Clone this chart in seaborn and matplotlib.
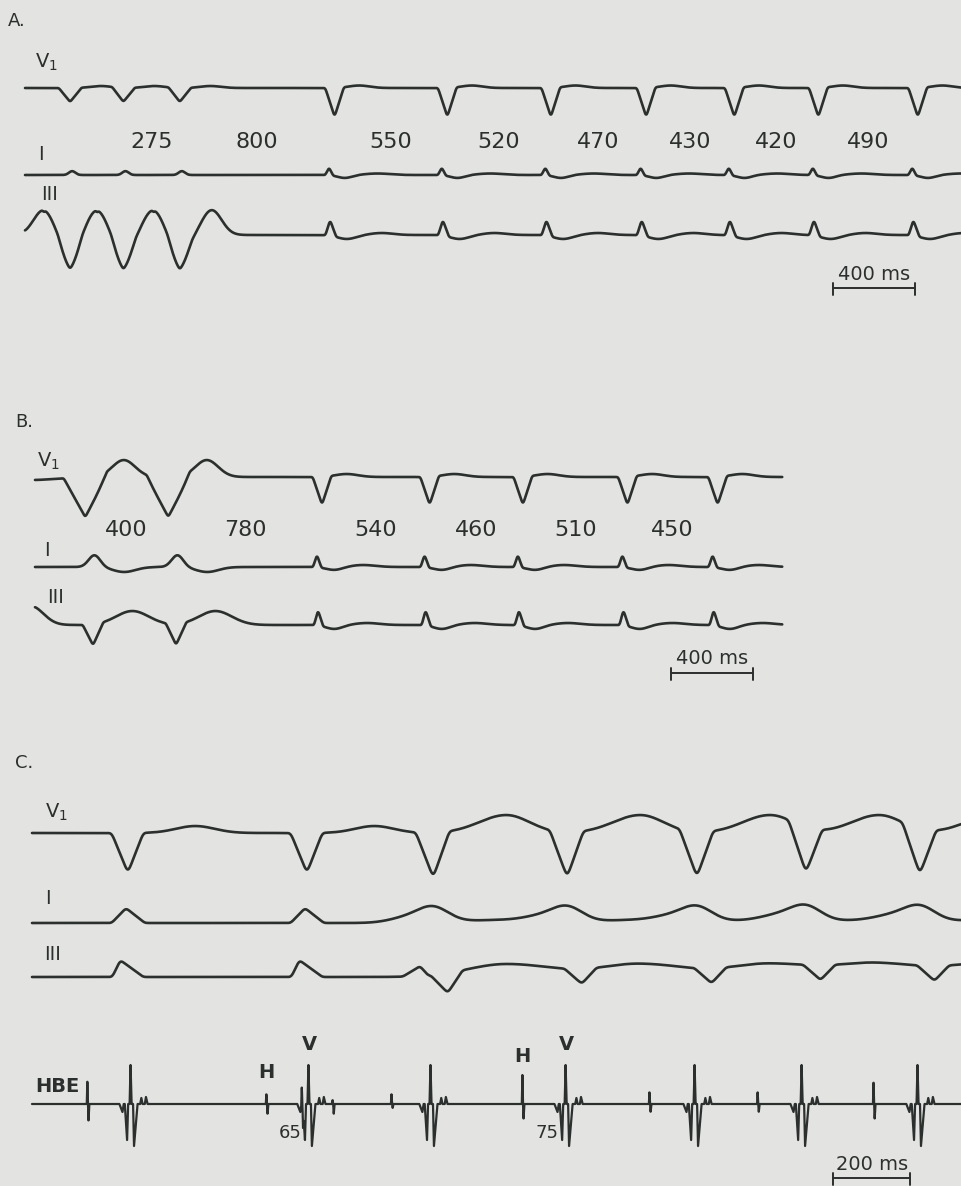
import numpy as np
import pandas as pd
import seaborn as sns
import matplotlib
matplotlib.use("Agg")
import matplotlib.pyplot as plt

W, H = 962, 1186
BG = "#e3e4e1"
INK = "#2b2f2d"
NARROW = ["Liberation Sans Narrow", "DejaVu Sans"]

# ---------------- data read off the tracings ----------------
# beat times in ms from the start of each strip (QRS nadir in V1)
A_BEATS = [220, 480, 755, 1510, 2060, 2565, 3030, 3460, 3870, 4355]
A_TYPES = ["w", "w", "wl", "n", "n", "n", "n", "n", "n", "n"]
A_LABELS = ["275", "800", "550", "520", "470", "430", "420", "490"]
A_END = 4570

B_BEATS = [-20, 245, 650, 1400, 1925, 2380, 2890, 3330]
B_TYPES = ["x", "w", "w", "n", "n", "n", "n", "n"]
B_LABELS = ["400", "780", "540", "460", "510", "450"]
B_END = 3645

C_BEATS = [249, 714, 1042, 1390, 1727, 2010, 2306]
C_TYPES = ["n", "n", "m", "w", "w", "w", "w"]
C_END = 2416

# His bundle electrogram: sharp deflections (ms, up, down) and V complexes (ms)
HBE_H = [(145, 23, -17), (610, 10, -10), (702, 17, -20), (782, 4, -10), (935, 10, -4),
         (1275, 30, -15), (1605, 12, -8), (1886, 12, -8), (2187, 22, -15)]
HBE_V = [260, 722, 1039, 1390, 1725, 2003, 2304]
HV_LABELS = [("H", 610, 1072), ("V", 722, 1044), ("H", 1275, 1057), ("V", 1390, 1044)]
HV_INTERVALS = [("65", 722), ("75", 1390)]

SCALE_AB = 400
SCALE_C = 200

# wave components per lead and beat type: (offset ms, amplitude, left width, right width, kind)
TPL_A = {
    "V1": {"w": [(0, -14, 55, 55, "t"), (150, 2, 50, 50, "g")],
           "wl": [(0, -14, 55, 55, "t"), (150, 2, 50, 50, "g")],
           "n": [(0, -29, 45, 45, "t"), (120, 2.5, 50, 50, "g")]},
    "I": {"w": [(10, 4, 15, 15, "g")],
          "wl": [(10, 4, 15, 15, "g")],
          "n": [(-27, 8, 18, 20, "t"), (50, -3, 35, 35, "g"), (210, 1.5, 60, 60, "g")]},
    "III": {"w": [(0, -20, 45, 45, "g"), (0, -15, 60, 60, "t"), (-130, 25, 48, 48, "g"), (-128, -7, 2, 2, "t")],
            "wl": [(0, -20, 45, 45, "g"), (0, -15, 60, 60, "t"), (-130, 25, 48, 48, "g"), (-128, -7, 2, 2, "t"),
                   (156, 25, 48, 48, "g")],
            "n": [(-22, 16, 22, 30, "t"), (60, -4, 45, 45, "g"), (230, 2, 55, 55, "g")]},
}
TPL_B = {
    "V1": {"x": [(0, -3, 200, 120, "g")],
           "w": [(0, -40, 105, 105, "t"), (188, 17, 55, 55, "g")],
           "n": [(0, -28, 45, 45, "t"), (120, 3, 55, 55, "g")]},
    "I": {"w": [(45, 12, 28, 28, "g"), (190, -5, 55, 55, "g")],
          "n": [(-25, 13, 18, 22, "t"), (60, -3, 40, 40, "g"), (200, 2, 60, 60, "g")]},
    "III": {"x": [(0, 19, 60, 60, "g")],
            "w": [(38, -21, 50, 50, "t"), (230, 14, 80, 80, "g")],
            "n": [(-20, 16, 18, 25, "t"), (60, -4, 40, 40, "g"), (220, 2, 60, 60, "g")]},
}
TPL_C = {
    "V1": {"n": [(0, -40, 42, 40, "t"), (175, 7, 50, 50, "g")],
           "m": [(0, -45, 45, 42, "t"), (190, 18, 70, 60, "g")],
           "w": [(0, -45, 45, 42, "t"), (190, 18, 70, 60, "g")]},
    "I": {"n": [(-5, 15, 37, 49, "t")],
          "m": [(0, 15, 40, 40, "g"), (-70, 5, 45, 45, "g"), (170, 3, 90, 90, "g")],
          "w": [(0, 15, 40, 40, "g"), (-70, 5, 45, 45, "g"), (170, 3, 90, 90, "g")]},
    "III": {"n": [(-20, 17, 20, 60, "t")],
            "m": [(-34, 10, 45, 20, "t"), (38, -20, 45, 38, "t"), (190, 13, 100, 130, "g")],
            "w": [(38, -15, 45, 38, "t"), (190, 13, 100, 130, "g")]},
}
V_COMPLEX = [(-25, -8, 8, 3, "t"), (-13, -36, 6, 2.5, "t"), (-4, 39, 2.5, 2.5, "t"),
             (5, -42, 2.5, 9, "t"), (24, 6, 3, 3, "t"), (36, 7, 3, 4, "t")]

# ---------------- layout (pixels) ----------------
PANELS = {
    "A": dict(rows=(0, 330), x0=25, s=82 / 400, base={"V1": 88, "I": 175, "III": 235},
              letter=(8, 21), label_row=142, bar_row=288, bar_start=3941),
    "B": dict(rows=(330, 690), x0=35, s=82 / 400, base={"V1": 477, "I": 567, "III": 625},
              letter=(15, 422), label_row=530, bar_row=673, bar_start=3102),
    "C": dict(rows=(690, 1186), x0=32, s=77 / 200, base={"V1": 833, "I": 923, "III": 977, "HBE": 1104},
              letter=(15, 763), bar_row=1178, bar_start=2081),
}
LEAD_LABELS = {
    "A": {"V1": (35, 68), "I": (41, 155), "III": (50, 194)},
    "B": {"V1": (37, 467), "I": (47, 551), "III": (56, 597)},
    "C": {"V1": (45, 818), "I": (48, 898), "III": (53, 955)},
}


def build_trace(t, beats, types, template):
    y = np.zeros_like(t)
    for b, k in zip(beats, types):
        for off, amp, wl, wr, kind in template.get(k, []):
            d = t - (b + off)
            w = np.where(d < 0, wl, wr)
            if kind == "g":
                y += amp * np.exp(-0.5 * (d / w) ** 2)
            else:
                y += amp * np.clip(1 - np.abs(d) / w, 0, None)
    return y


def smooth(y, dt, sigma=4.5):
    k = np.arange(-4 * sigma, 4 * sigma + dt, dt)
    k = np.exp(-0.5 * (k / sigma) ** 2)
    k /= k.sum()
    pad = len(k) // 2
    yp = np.pad(y, pad, mode="edge")
    return np.convolve(yp, k, mode="same")[pad:-pad]


def ftxt(x, y, s, **kw):
    fig.text(x / W, 1 - y / H, s, color=INK, **kw)


fig = plt.figure(figsize=(W / 100, H / 100), dpi=100, facecolor=BG)
sns.set_style("white")
plt.rcParams["font.family"] = ["DejaVu Sans"]
plt.rcParams["mathtext.default"] = "regular"

strips = {"A": (A_BEATS, A_TYPES, A_END, TPL_A),
          "B": (B_BEATS, B_TYPES, B_END, TPL_B),
          "C": (C_BEATS, C_TYPES, C_END, TPL_C)}

for name, (beats, types, t_end, tpl) in strips.items():
    p = PANELS[name]
    r0, r1 = p["rows"]
    ax = fig.add_axes([0, 1 - r1 / H, 1, (r1 - r0) / H])
    ax.set_xlim(-p["x0"] / p["s"], (W - p["x0"]) / p["s"])
    ax.set_ylim(-r1, -r0)
    ax.set_facecolor(BG)
    ax.axis("off")

    dt = 0.5
    t = np.arange(0, t_end + dt, dt)
    for lead, lead_tpl in tpl.items():
        y = smooth(build_trace(t, beats, types, lead_tpl), dt)
        df = pd.DataFrame({"t": t, "y": y - p["base"][lead]})
        sns.lineplot(data=df, x="t", y="y", ax=ax, color=INK, linewidth=1.9,
                     estimator=None, sort=False)

    if name == "C":
        dt = 0.25
        t = np.arange(0, t_end + dt, dt)
        y = build_trace(t, HBE_V, ["v"] * len(HBE_V), {"v": V_COMPLEX})
        h_tpl = {"h%d" % i: [(-1.2, up, 1.5, 1.5, "t"), (1.8, dn, 1.5, 2, "t")]
                 for i, (_, up, dn) in enumerate(HBE_H)}
        y += build_trace(t, [h[0] for h in HBE_H], list(h_tpl.keys()), h_tpl)
        df = pd.DataFrame({"t": t, "y": y - p["base"]["HBE"]})
        sns.lineplot(data=df, x="t", y="y", ax=ax, color=INK, linewidth=1.6,
                     estimator=None, sort=False)
        for s, tm, row in HV_LABELS:
            ax.text(tm - 2, -row, s, ha="center", va="center", fontsize=14,
                    fontweight="bold", family=NARROW, color=INK)
        for s, tm in HV_INTERVALS:
            ax.text(tm - 22, -1133, s, ha="right", va="center", fontsize=13, color=INK)
        ftxt(35, 1086, "HBE", ha="left", va="center", fontsize=14, fontweight="bold", family=NARROW)

    # interval labels between successive beats
    if name in ("A", "B"):
        labels = A_LABELS if name == "A" else B_LABELS
        for i, lab in enumerate(labels):
            mid = 0.5 * (beats[i + 1] + beats[i + 2])
            ax.text(mid, -p["label_row"], lab, ha="center", va="center", fontsize=16, color=INK)

    # calibration bar
    scale = SCALE_AB if name in ("A", "B") else SCALE_C
    b0, row = p["bar_start"], p["bar_row"]
    ax.plot([b0, b0 + scale], [-row, -row], color=INK, lw=1.4, clip_on=False)
    for bx in (b0, b0 + scale):
        ax.plot([bx, bx], [-row + 5, -row - 7], color=INK, lw=1.4, clip_on=False)
    ax.text(b0 + scale / 2, -row + 14, "%d ms" % scale, ha="center", va="center",
            fontsize=14, family=NARROW, color=INK)

    lx, ly = p["letter"]
    ftxt(lx, ly, name + ".", ha="left", va="center", fontsize=13)
    for lead, (x, y) in LEAD_LABELS[name].items():
        if lead == "V1":
            ftxt(x, y, "V$_1$", ha="left", va="baseline", fontsize=14)
        else:
            ftxt(x, y, lead, ha="center", va="center", fontsize=14)

fig.savefig("out.png", dpi=100, facecolor=BG)
